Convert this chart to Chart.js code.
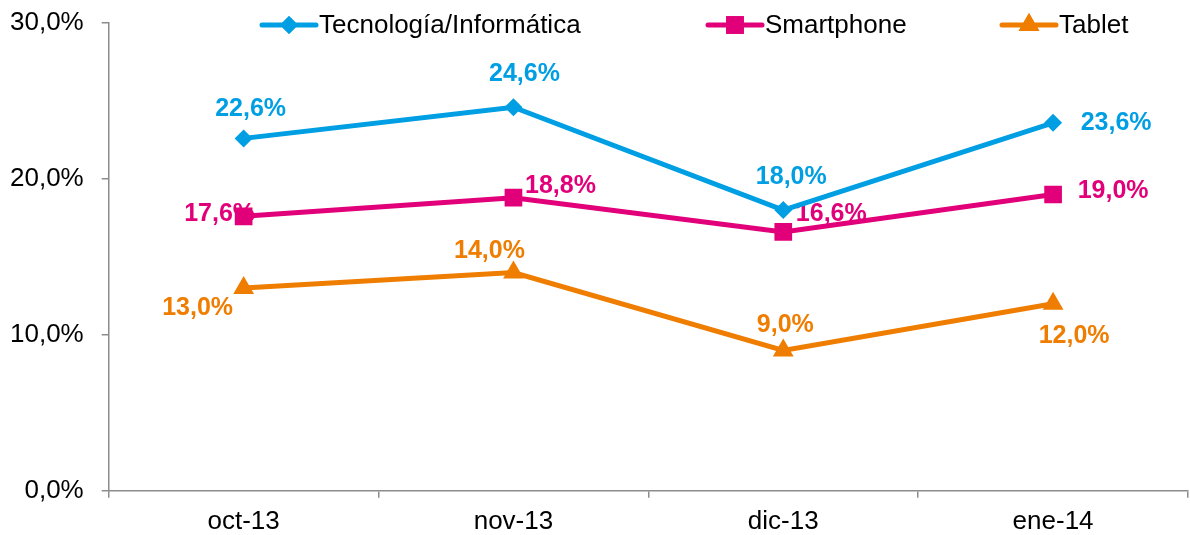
<!DOCTYPE html>
<html>
<head>
<meta charset="utf-8">
<script src="https://cdn.jsdelivr.net/npm/chart.js@4/dist/chart.umd.min.js"></script>
<style>
  html, body { margin: 0; padding: 0; background: #fff; }
  #wrap { width: 1190px; height: 535px; }
</style>
</head>
<body>
<div id="wrap"><canvas id="chart" width="1190" height="535"></canvas></div>
<script>
const months = ['oct-13', 'nov-13', 'dic-13', 'ene-14']
const tecnologia = [22.6, 24.6, 18.0, 23.6]
const smartphone = [17.6, 18.8, 16.6, 19.0]
const tablet = [13.0, 14.0, 9.0, 12.0]
const yTicks = [0, 10, 20, 30]

const blue = '#009FE3'
const magenta = '#E2007A'
const orange = '#EF7D00'
const axisGray = '#8c8c8c'
const fontFamily = '"Liberation Sans", Arial, sans-serif'

// where each value label sits, relative to its point (dx, dy of the text centre)
const labelOffsets = [
    [[7, -29], [11, -33], [8, -33], [63, 0]],
    [[-24, -2], [47, -12], [48, -18], [60, -3]],
    [[-46, 20], [-24, -21], [2, -25], [21, 32]]
]

const fmt = v => v.toFixed(1).replace('.', ',') + '%'

const valueLabels = {
    id: 'valueLabels',
    beforeDatasetsDraw(chart) {
        const ctx = chart.ctx
        ctx.save()
        ctx.font = 'bold 25px ' + fontFamily
        ctx.textAlign = 'center'
        ctx.textBaseline = 'middle'
        chart.data.datasets.forEach((ds, i) => {
            const meta = chart.getDatasetMeta(i)
            ctx.fillStyle = ds.borderColor
            meta.data.forEach((pt, j) => {
                const [dx, dy] = labelOffsets[i][j]
                ctx.fillText(fmt(ds.data[j]), pt.x + dx, pt.y + dy)
            })
        })
        ctx.restore()
    }
}

// legend drawn over the top of the plot like the original
const topLegend = {
    id: 'topLegend',
    afterDraw(chart) {
        const ctx = chart.ctx
        const y = 25
        const starts = [262, 708, 1002]
        ctx.save()
        ctx.font = '26px ' + fontFamily
        ctx.textBaseline = 'middle'
        chart.data.datasets.forEach((ds, i) => {
            const x0 = starts[i]
            ctx.strokeStyle = ds.borderColor
            ctx.lineWidth = 5
            ctx.lineCap = 'round'
            ctx.beginPath()
            ctx.moveTo(x0, y)
            ctx.lineTo(x0 + 54, y)
            ctx.stroke()
            ctx.fillStyle = ds.borderColor
            ctx.beginPath()
            Chart.helpers.drawPoint(ctx, {
                pointStyle: ds.pointStyle,
                radius: ds.pointRadius,
                borderWidth: 0
            }, x0 + 27, y)
            ctx.fill()
            ctx.fillStyle = '#000'
            ctx.fillText(ds.label, x0 + 57, y + 1)
        })
        ctx.restore()
    }
}

const series = (label, data, color, style, radius) => ({
    label,
    data,
    borderColor: color,
    backgroundColor: color,
    borderWidth: 5,
    pointStyle: style,
    pointRadius: radius,
    pointHoverRadius: radius,
    pointBorderWidth: 0,
    tension: 0
})

new Chart(document.getElementById('chart'), {
    type: 'line',
    data: {
        labels: months,
        datasets: [
            series('Tecnología/Informática', tecnologia, blue, 'rectRot', 9),
            series('Smartphone', smartphone, magenta, 'rect', 12.5),
            series('Tablet', tablet, orange, 'triangle', 12)
        ]
    },
    options: {
        responsive: false,
        animation: false,
        layout: { autoPadding: false, padding: { left: -8, right: 2, top: 23, bottom: -10 } },
        plugins: {
            legend: { display: false },
            tooltip: { enabled: false }
        },
        scales: {
            x: {
                offset: true,
                afterFit: axis => { axis.paddingLeft = 0; axis.paddingRight = 0 },
                grid: {
                    offset: true,
                    drawOnChartArea: false,
                    color: axisGray,
                    lineWidth: 1.5,
                    tickLength: 7
                },
                border: { color: axisGray, width: 1.5 },
                ticks: {
                    color: '#000',
                    padding: 8,
                    font: { family: fontFamily, size: 26 }
                }
            },
            y: {
                min: 0,
                max: 30,
                afterBuildTicks: axis => { axis.ticks = yTicks.map(v => ({ value: v })) },
                afterFit: axis => { axis.paddingTop = 0; axis.paddingBottom = 0 },
                grid: {
                    drawOnChartArea: false,
                    color: axisGray,
                    lineWidth: 1.5,
                    tickLength: 7
                },
                border: { color: axisGray, width: 1.5 },
                ticks: {
                    color: '#000',
                    padding: 18,
                    font: { family: fontFamily, size: 26 },
                    callback: v => fmt(v)
                }
            }
        }
    },
    plugins: [valueLabels, topLegend]
})
</script>
</body>
</html>
